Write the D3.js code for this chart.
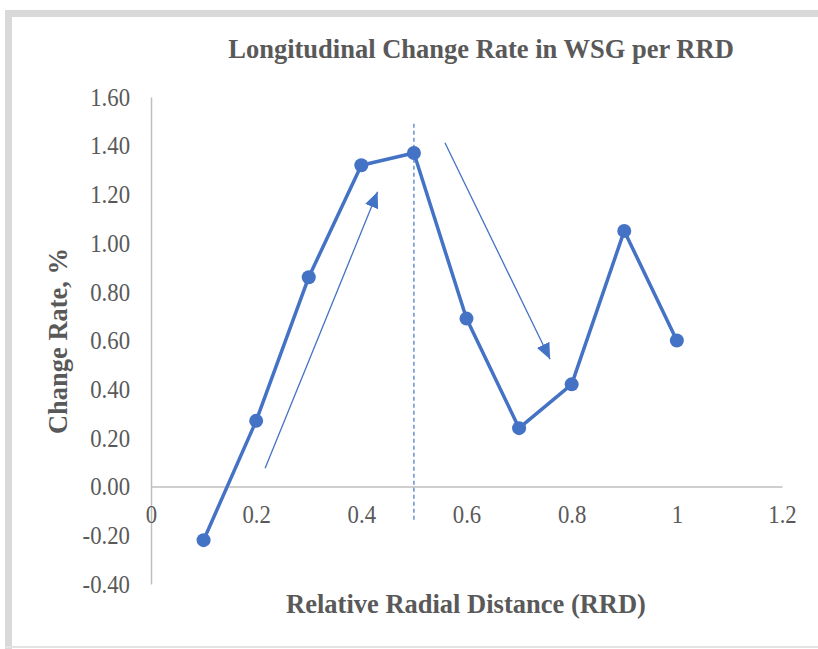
<!DOCTYPE html>
<html>
<head>
<meta charset="utf-8">
<script src="https://cdn.jsdelivr.net/npm/d3@7"></script>
<style>
  html, body { margin: 0; padding: 0; background: #ffffff; }
  svg { display: block; }
  text { font-family: "Liberation Serif", "Times New Roman", serif; }
</style>
</head>
<body>
<svg id="chart" width="818" height="649"></svg>
<script>
// Relative radial distance (x) and longitudinal change rate in WSG, % (y)
const rrd = [0.1, 0.2, 0.3, 0.4, 0.5, 0.6, 0.7, 0.8, 0.9, 1.0];
const changeRate = [-0.22, 0.27, 0.86, 1.32, 1.37, 0.69, 0.24, 0.42, 1.05, 0.60];

const xTicks = [0, 0.2, 0.4, 0.6, 0.8, 1, 1.2];
const xTickLabels = ["0", "0.2", "0.4", "0.6", "0.8", "1", "1.2"];
const yTicks = [-0.4, -0.2, 0, 0.2, 0.4, 0.6, 0.8, 1.0, 1.2, 1.4, 1.6];
const yTickLabels = ["-0.40", "-0.20", "0.00", "0.20", "0.40", "0.60", "0.80", "1.00", "1.20", "1.40", "1.60"];

// Trend annotations, in data units: [x1, y1, x2, y2]
const riseArrow = [0.217, 0.075, 0.431, 1.211];
const fallArrow = [0.559, 1.412, 0.759, 0.523];
// Vertical dashed marker at the peak RRD: [x, yTop, yBottom]
const peakMarker = [0.5, 1.49, -0.14];

const titleText = "Longitudinal Change Rate in WSG per RRD";
const xTitle = "Relative Radial Distance (RRD)";
const yTitle = "Change Rate, %";

const blue = "#4472C4";
const grey = "#595959";
const axisGrey = "#bfbfbf";

const svg = d3.select("#chart");

// Chart frame
svg.append("rect").attr("x", 5).attr("y", 10).attr("width", 820).attr("height", 7).attr("fill", "#d9d9d9");
svg.append("rect").attr("x", 5).attr("y", 10).attr("width", 7).attr("height", 639).attr("fill", "#d9d9d9");
svg.append("rect").attr("x", 5).attr("y", 646).attr("width", 820).attr("height", 2).attr("fill", "#e3e3e3");

const x = d3.scaleLinear().domain([0, 1.2]).range([151, 782]);
const y = d3.scaleLinear().domain([-0.4, 1.6]).range([584, 97]);

// Tick labels are set slightly condensed
function condense(sel, k) {
  sel.each(function () {
    const w = this.getComputedTextLength();
    d3.select(this).attr("textLength", w * k).attr("lengthAdjust", "spacingAndGlyphs");
  });
}

// Y axis
const yAxis = svg.append("g")
  .attr("transform", `translate(${x(0)},0)`)
  .call(d3.axisLeft(y).tickValues(yTicks).tickSize(0).tickPadding(21)
    .tickFormat((d, i) => yTickLabels[i]));
yAxis.select(".domain").attr("stroke", axisGrey).attr("stroke-width", 1.5);
yAxis.selectAll("text").attr("fill", grey).style("font-size", "25px")
  .style("font-family", "'Liberation Serif', serif").attr("dy", "0.33em")
  .call(condense, 0.91);

// X axis drawn along the zero line
const xAxis = svg.append("g")
  .attr("transform", `translate(0,${y(0)})`)
  .call(d3.axisBottom(x).tickValues(xTicks).tickSize(0).tickPadding(19)
    .tickFormat((d, i) => xTickLabels[i]));
xAxis.select(".domain").attr("stroke", axisGrey).attr("stroke-width", 1.5);
xAxis.selectAll("text").attr("fill", grey).style("font-size", "25px")
  .style("font-family", "'Liberation Serif', serif")
  .call(condense, 0.91);

// Peak marker
svg.append("line")
  .attr("x1", x(peakMarker[0])).attr("x2", x(peakMarker[0]))
  .attr("y1", y(peakMarker[1])).attr("y2", y(peakMarker[2]))
  .attr("stroke", blue).attr("stroke-width", 1.2).attr("stroke-dasharray", "4,3");

// Arrowhead
svg.append("defs").append("marker")
  .attr("id", "head")
  .attr("markerUnits", "userSpaceOnUse")
  .attr("viewBox", "0 0 16 14")
  .attr("refX", 16).attr("refY", 7)
  .attr("markerWidth", 16).attr("markerHeight", 14)
  .attr("orient", "auto")
  .append("path").attr("d", "M0,0 L16,7 L0,14 Z").attr("fill", blue);

[riseArrow, fallArrow].forEach(a => {
  svg.append("line")
    .attr("x1", x(a[0])).attr("y1", y(a[1]))
    .attr("x2", x(a[2])).attr("y2", y(a[3]))
    .attr("stroke", blue).attr("stroke-width", 1.3)
    .attr("marker-end", "url(#head)");
});

// Series line and markers
const pts = rrd.map((d, i) => [d, changeRate[i]]);
svg.append("path")
  .datum(pts)
  .attr("fill", "none")
  .attr("stroke", blue)
  .attr("stroke-width", 3.5)
  .attr("stroke-linejoin", "round")
  .attr("d", d3.line().x(d => x(d[0])).y(d => y(d[1])));

svg.selectAll("circle.pt")
  .data(pts)
  .enter().append("circle")
  .attr("class", "pt")
  .attr("cx", d => x(d[0])).attr("cy", d => y(d[1]))
  .attr("r", 7).attr("fill", blue);

// Titles
svg.append("text")
  .attr("x", 481).attr("y", 58)
  .attr("text-anchor", "middle")
  .attr("fill", grey).attr("font-weight", "bold").style("font-size", "26.5px")
  .text(titleText);

svg.append("text")
  .attr("x", 466).attr("y", 613)
  .attr("text-anchor", "middle")
  .attr("fill", grey).attr("font-weight", "bold").style("font-size", "26.5px")
  .text(xTitle);

svg.append("text")
  .attr("transform", "translate(67,341) rotate(-90)")
  .attr("text-anchor", "middle")
  .attr("fill", grey).attr("font-weight", "bold").style("font-size", "26.5px")
  .text(yTitle);
</script>
</body>
</html>
